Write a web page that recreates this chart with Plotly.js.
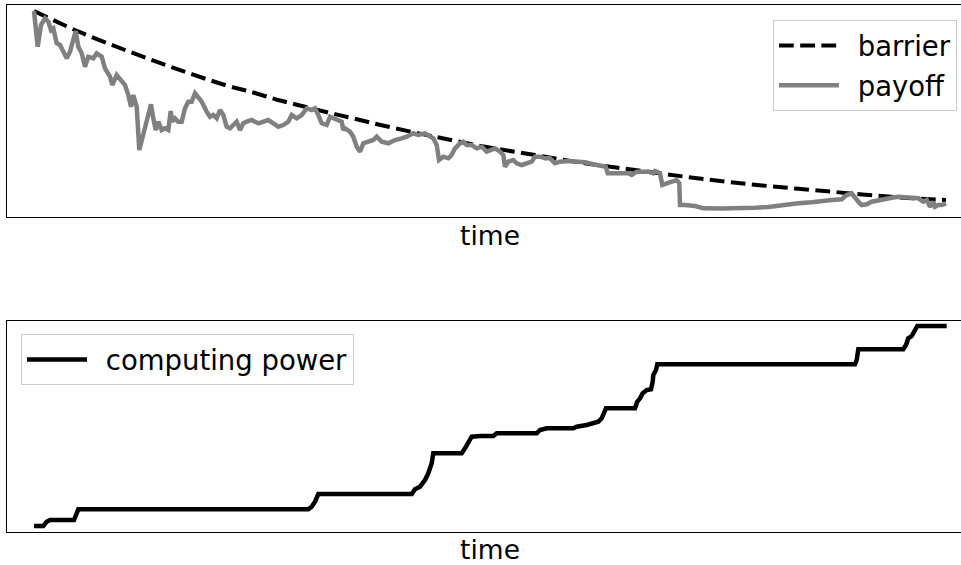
<!DOCTYPE html>
<html>
<head>
<meta charset="utf-8">
<script src="https://cdn.plot.ly/plotly-3.0.1.min.js"></script>
<style>
html,body{margin:0;padding:0;background:#fff;overflow:hidden;}
#chart{width:980px;height:565px;}
</style>
</head>
<body>
<div id="chart"></div>
<script>
// ---- data (arbitrary units) ----
const barrierTime = [0, 41, 91, 141, 191, 221, 246, 271, 296, 319, 351, 401, 451, 501, 551, 601, 651, 697, 748, 798, 828, 878, 912];
const barrierValue = [206, 187, 167, 148.7, 132, 124, 116.5, 110.3, 104, 98.7, 91, 80.3, 70.3, 62, 53.7, 47, 40.3, 34.7, 29.7, 25.3, 22.5, 18.7, 17];

const payoffTime = [0, 3.7, 7, 11, 14.3, 17, 19.3, 22.7, 26, 27.7, 30.3, 32.7, 36, 39.3, 41.7, 44.3, 47.7, 51, 54.3, 59.3,
  62.7, 67.7, 71, 76, 78.3, 82.7, 87.7, 91, 94.3, 97, 99.3, 102.7, 105.3, 107.7, 111, 114.3, 117, 119.3, 121.7, 124.3,
  127.7, 131, 134.3, 136.7, 138.3, 141, 144.3, 147.7, 151, 154.3, 157.7, 161, 164.3, 167.7, 172.7, 176, 179.3, 182.7, 186, 189.3,
  192.7, 196, 199.3, 202.7, 206, 209.3, 212.7, 217.7, 224.3, 229.3, 234.3, 239.3, 244.3, 249.3, 254.3, 257.7, 262.7, 267.7, 272.7, 277.7,
  281, 284.3, 287.7, 292.7, 296, 299.3, 302.7, 307.7, 309.3, 311, 316, 319.3, 322.7, 326, 329.3, 334.3, 339.3, 342.7, 347.7, 354.3,
  361, 367.7, 372.7, 379.3, 384.3, 391, 396, 399.3, 402.7, 405, 409.3, 414.3, 417.7, 421, 426, 429.3, 432.7, 437.7, 442.7, 447.7,
  452.7, 457.7, 461, 466, 469.3, 471, 474.3, 479.3, 482.7, 487.7, 492.7, 497.7, 501, 506, 511, 516, 521, 526, 534.3, 542.7,
  551, 559.3, 567.7, 571.7, 573.7, 581, 587.7, 594.3, 597.7, 602.7, 607.7, 614.3, 619.3, 621, 626, 628.3, 632.7, 637.7, 642.7, 645.3,
  646, 651, 661, 669.3, 677.7, 687.7, 697.7, 707.7, 721, 734.3, 744.3, 754.3, 764.3, 777.7, 787.7, 797.7, 807.7, 812.7, 817.7, 821,
  824.3, 827.7, 832.7, 837.7, 844.3, 851, 857.7, 864.3, 871, 877.7, 884.3, 889.3, 892.7, 896, 899.3, 901, 904.3, 907.7, 912];
const payoffValue = [206, 170.3, 192, 198.7, 195.3, 187, 188.7, 173.7, 172, 168.7, 163.7, 158.7, 165.3, 175.3, 186, 170.3, 163.7, 150.3, 160.3, 158.7,
  163.7, 160.3, 148.7, 140.3, 132, 142, 135.3, 132, 122, 110.3, 122, 110.3, 67, 77, 87, 102, 112.7, 98.7, 87, 95.3,
  87, 88.7, 87, 106, 95.3, 98.7, 95.3, 95.3, 108.7, 115.3, 115.3, 123.7, 120.3, 115.3, 105.3, 100.3, 102, 98.7, 107, 102,
  90.3, 88.7, 92, 95.3, 87, 93.7, 95.3, 97, 93.7, 95.3, 97, 93.7, 90.3, 92, 95.3, 102, 98.7, 102, 108.7, 107,
  108.7, 102, 93.7, 92, 100.3, 98.7, 97, 95.3, 87, 88.7, 85.3, 80.3, 70.3, 65.3, 73.7, 75.3, 77, 80.3, 75.3, 73.7,
  77, 78.7, 80.3, 83.7, 82, 83.7, 80.3, 78.7, 72, 57, 60.3, 58.7, 62, 68.7, 73.7, 75.3, 72, 72, 68.7, 70.3,
  65.3, 67, 68.7, 65.3, 62, 50.3, 55.3, 57, 53.7, 52, 53.7, 55.3, 60.3, 60.3, 58.7, 58.7, 53.7, 55.3, 56, 55.3,
  54.7, 52.7, 51.3, 50.3, 43.7, 43.7, 43.7, 43.7, 42, 45.3, 45.3, 45.3, 43.7, 46, 43.7, 32, 33.7, 35.3, 37, 33.7,
  12, 12, 11, 8.7, 8.2, 8.5, 8.7, 8.7, 9.3, 10, 11.5, 12.7, 13.7, 14.7, 15.3, 17, 17.7, 22, 23.7, 18.7,
  15.3, 12, 12.7, 15.3, 17, 18, 19.3, 20.3, 20.3, 19.3, 18.7, 15.3, 17, 10.3, 15.3, 10.3, 12, 12, 13.7];

const powerTime = [0, 9.3, 12.7, 16, 40, 42, 44.3, 274.3, 277.7, 281, 284.3, 377.7, 381, 386, 391, 394.3, 397.7, 399.3, 427.7, 431,
  434.3, 437.7, 446, 459.3, 462.7, 502.7, 506, 512.7, 539.3, 542.7, 552.7, 559.3, 564.3, 567.7, 570, 572, 601, 603.3, 606, 608.7,
  612.7, 617, 618.7, 619.3, 622, 623.3, 821, 822.7, 824.3, 869.3, 872, 874.3, 877.7, 880, 883.3, 912.7];
const powerValue = [5, 5, 9.3, 11, 11, 17.7, 21.7, 21.7, 24.3, 29.3, 37, 37, 41.7, 44.3, 51, 57.7, 67.7, 77.7, 77.7, 82.7,
  89.3, 94.3, 95, 95, 97.7, 97.7, 101, 102.7, 102.7, 104.3, 106, 107.7, 109.3, 112.7, 117.7, 122.7, 122.7, 129.3, 132.7, 137.7,
  141, 141.7, 149.3, 156, 161, 166.7, 166.7, 171, 181.7, 181.7, 186, 192.7, 195, 198.3, 205, 205];

const seriesNames = ['barrier', 'payoff', 'computing power'];

const FONT = 'DejaVu Sans, Liberation Sans, sans-serif';
const GAP = '\u2002';

const traces = [
  {x: barrierTime, y: barrierValue, name: GAP + seriesNames[0], type: 'scatter', mode: 'lines',
   line: {color: '#000000', width: 4, dash: '14.8px,6.4px', shape: 'spline', smoothing: 1},
   xaxis: 'x', yaxis: 'y', legend: 'legend', legendgroup: 'a'},
  {x: payoffTime, y: payoffValue, name: GAP + seriesNames[1], type: 'scatter', mode: 'lines',
   line: {color: '#808080', width: 4.5},
   xaxis: 'x', yaxis: 'y', legend: 'legend', legendgroup: 'b'},
  {x: powerTime, y: powerValue, name: GAP + seriesNames[2], type: 'scatter', mode: 'lines',
   line: {color: '#000000', width: 4.5},
   xaxis: 'x2', yaxis: 'y2', legend: 'legend2'}
];

const axBase = {showgrid: false, zeroline: false, showticklabels: false, ticks: '',
  showline: true, mirror: true, linecolor: '#000000', linewidth: 1};

const legFont = {family: FONT, size: 27.5, color: '#000'};

const layout = {
  width: 980, height: 565,
  margin: {l: 7, r: 7, t: 5, b: 33},
  paper_bgcolor: '#ffffff', plot_bgcolor: '#ffffff',
  font: {family: FONT, color: '#000000', size: 26.5},
  showlegend: true,
  xaxis: Object.assign({}, axBase, {range: [-27, 939], anchor: 'y', domain: [0, 1],
    title: {text: 'time', font: {family: FONT, size: 26.5, color: '#000'}, standoff: 9}}),
  yaxis: Object.assign({}, axBase, {range: [0, 212], anchor: 'x', domain: [0.5977, 1]}),
  xaxis2: Object.assign({}, axBase, {range: [-27, 939], anchor: 'y2', domain: [0, 1],
    title: {text: 'time', font: {family: FONT, size: 26.5, color: '#000'}, standoff: 9}}),
  yaxis2: Object.assign({}, axBase, {range: [-1, 210.5], anchor: 'x2', domain: [0, 0.4013]}),
  legend: {x: 0.9834, y: 0.9715, xanchor: 'right', yanchor: 'top',
    bgcolor: '#ffffff', bordercolor: '#cccccc', borderwidth: 1,
    font: legFont, itemwidth: 60, tracegroupgap: 1, traceorder: 'grouped'},
  legend2: {x: 0.0145, y: 0.3757, xanchor: 'left', yanchor: 'top',
    bgcolor: '#ffffff', bordercolor: '#cccccc', borderwidth: 1,
    font: legFont, itemwidth: 60}
};

Plotly.newPlot('chart', traces, layout, {displayModeBar: false, staticPlot: true});
</script>
</body>
</html>
